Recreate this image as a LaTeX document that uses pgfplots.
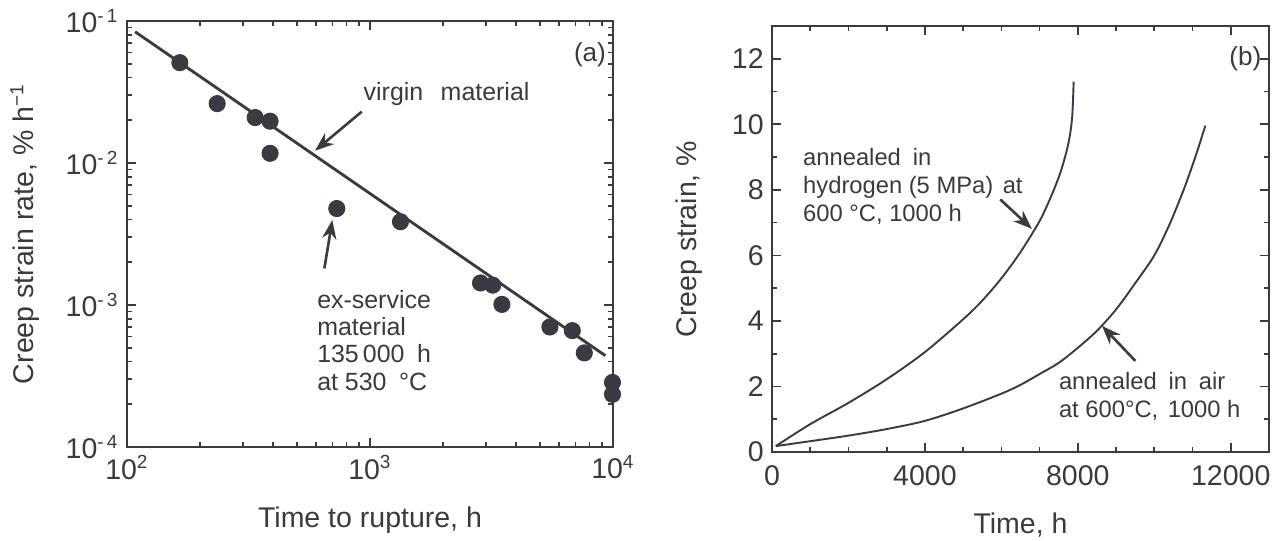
\documentclass[border=0pt]{standalone}
\usepackage{fontspec}
\setmainfont{Liberation Sans}
\usepackage{pgfplots}
\pgfplotsset{compat=1.18}
\usetikzlibrary{arrows.meta}
\definecolor{ink}{RGB}{58,58,66}
\definecolor{txt}{RGB}{58,58,58}
\pgfplotsset{
  common/.style={
    scale only axis, anchor=south west, clip=false,
    axis line style={line width=0.9pt, draw=ink},
    every tick/.style={draw=ink, line width=0.7pt},
    tick align=inside, tick pos=both,
    major tick length=3.6pt, minor tick length=2pt,
    ticklabel style={font=\fontsize{12}{14}\selectfont, text=txt},
    label style={font=\fontsize{12}{14}\selectfont, text=txt},
    /pgf/number format/assume math mode=true,
  }
}
\begin{document}
\begin{tikzpicture}
\useasboundingbox (0,0) rectangle (539.37pt,227.37pt);
% ---------------- panel (a) ----------------
\begin{axis}[common,
  at={(53.47pt,39.16pt)}, width=204.63pt, height=179.37pt,
  xmode=log, ymode=log, xmin=100, xmax=10000, ymin=1e-4, ymax=1e-1,
  xtick={100,1000,10000},
  xticklabels={10\textsuperscript{2},10\textsuperscript{3},10\textsuperscript{4}},
  minor xtick={200,300,400,500,600,700,800,900,2000,3000,4000,5000,6000,7000,8000,9000},
  ytick={1e-4,1e-3,1e-2,1e-1},
  yticklabels={10\textsuperscript{-\,4},10\textsuperscript{-\,3},10\textsuperscript{-\,2},10\textsuperscript{-\,1}},
  minor ytick={2e-4,3e-4,4e-4,5e-4,6e-4,7e-4,8e-4,9e-4,2e-3,3e-3,4e-3,5e-3,6e-3,7e-3,8e-3,9e-3,2e-2,3e-2,4e-2,5e-2,6e-2,7e-2,8e-2,9e-2},
  xlabel={Time to rupture, h},
  ylabel={Creep strain rate, \% h\textsuperscript{−1}},
  xlabel style={at={(axis description cs:0.5,-0.171)}, anchor=center},
  ylabel style={at={(axis description cs:-0.21,0.5)}, anchor=center},
]
\addplot[ink, line width=1.2pt] coordinates {(108,0.084) (9300,0.00044)};
\addplot[only marks, mark=*, mark size=3.4pt, mark options={draw=ink, fill=ink}] coordinates {
 (165,0.0509) (235,0.0262) (337,0.0209) (388,0.0197) (388,0.0117)
 (730,0.00478) (1335,0.00386) (2850,0.00143) (3200,0.00138) (3490,0.00101)
 (5500,0.000700) (6800,0.000660) (7620,0.000460) (9950,0.000285) (9950,0.000235)
};
\node[font=\fontsize{10.5}{12}\selectfont, text=txt] at (axis cs:2066,0.0305) {virgin\hspace{0.7em}material};
\draw[ink, line width=1.1pt, -{Stealth[length=8pt,width=6pt]}] (axis cs:925,0.023) -- (axis cs:594,0.0122);
\node[anchor=base west, align=left, inner sep=0pt, font=\fontsize{10.5}{11.4}\selectfont, text=txt]
  at (axis cs:604,0.000252) {ex-service\\material\\135\,000\hspace{0.5em}h\\at 530\hspace{0.5em}°C};
\draw[ink, line width=1.1pt, -{Stealth[length=8pt,width=6pt]}] (axis cs:649,0.00181) -- (axis cs:700,0.00397);
\node[font=\fontsize{11}{13}\selectfont, text=txt] at (axis cs:8040,0.0576) {(a)};
\end{axis}
% ---------------- panel (b) ----------------
\begin{axis}[common,
  at={(325.05pt,37.05pt)}, width=209.26pt, height=179.37pt,
  xmin=0, xmax=13000, ymin=0, ymax=13,
  xtick={0,4000,8000,12000}, minor xtick={1000,2000,3000,5000,6000,7000,9000,10000,11000},
  ytick={0,2,4,6,8,10,12}, minor ytick={1,3,5,7,9,11},
  scaled x ticks=false,
  /pgf/number format/1000 sep={},
  xticklabel style={yshift=-2pt},
  xlabel={Time, h},
  ylabel={Creep strain, \%},
  xlabel style={at={(axis description cs:0.5,-0.171)}, anchor=center},
  ylabel style={at={(axis description cs:-0.167,0.5)}, anchor=center},
]
\addplot[ink, line width=0.8pt, smooth, tension=0.5] coordinates {
 (100,0.18) (1000,0.85) (2000,1.50) (3000,2.22) (4000,3.05) (5000,4.05) (5500,4.62)
 (6000,5.30) (6500,6.10) (7000,7.05) (7300,7.80) (7550,8.55) (7750,9.40) (7850,10.20) (7890,11.30)
};
\addplot[ink, line width=0.8pt, smooth, tension=0.5] coordinates {
 (100,0.18) (1000,0.33) (2000,0.50) (3000,0.70) (4000,0.95) (5000,1.33) (6000,1.78)
 (6500,2.05) (7000,2.38) (7500,2.72) (8000,3.18) (8500,3.70) (9000,4.35) (9500,5.15)
 (10000,6.00) (10400,6.95) (10800,8.10) (11100,9.10) (11335,9.96)
};
\node[anchor=base west, align=left, inner sep=0pt, font=\fontsize{10}{11.7}\selectfont, text=txt]
  at (axis cs:804,7.04) {annealed\hspace{0.5em}in\\hydrogen (5 MPa)\hspace{0.4em}at\\600 °C, 1000 h};
\draw[ink, line width=1.1pt, -{Stealth[length=8pt,width=6pt]}] (axis cs:5969,7.71) -- (axis cs:6798,6.81);
\node[anchor=base west, align=left, inner sep=0pt, font=\fontsize{10}{11.7}\selectfont, text=txt]
  at (axis cs:7495,1.06) {annealed\hspace{0.5em}in\hspace{0.5em}air\\at 600°C,\hspace{0.4em}1000 h};
\draw[ink, line width=1.1pt, -{Stealth[length=8pt,width=6pt]}] (axis cs:9503,2.78) -- (axis cs:8631,3.85);
\node[font=\fontsize{11}{13}\selectfont, text=txt] at (axis cs:12382,12.0) {(b)};
\end{axis}
\end{tikzpicture}
\end{document}
